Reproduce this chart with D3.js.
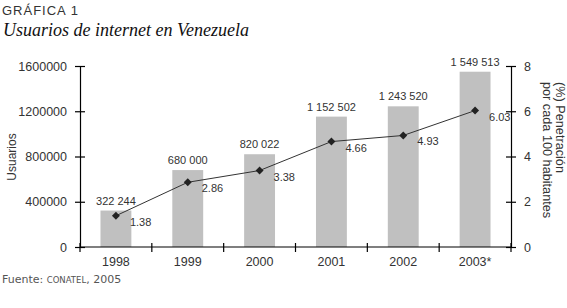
<!DOCTYPE html>
<html>
<head>
<meta charset="utf-8">
<script src="https://cdn.jsdelivr.net/npm/d3@7"></script>
<style>
  body { margin: 0; background: #fff; }
  svg { display: block; }
</style>
</head>
<body>
<div id="chart"></div>
<script>
const years = ['1998', '1999', '2000', '2001', '2002', '2003*'];
const users = [322244, 680000, 820022, 1152502, 1243520, 1549513];
const penetration = [1.38, 2.86, 3.38, 4.66, 4.93, 6.03];
const userLabels = ['322 244', '680 000', '820 022', '1 152 502', '1 243 520', '1 549 513'];
const leftTicks = [0, 400000, 800000, 1200000, 1600000];
const rightTicks = [0, 2, 4, 6, 8];

const width = 567, height = 308;
const marginLeft = 80, marginRight = 56, marginTop = 66, marginBottom = 61;
const font = '"Liberation Sans", Arial, sans-serif';
const ink = '#333';

const svg = d3.select('#chart').append('svg')
    .attr('width', width)
    .attr('height', height);

// titles
svg.append('text')
    .attr('x', 2).attr('y', 15)
    .attr('font-family', font).attr('font-size', 13)
    .attr('letter-spacing', 1)
    .attr('fill', ink)
    .text('GRÁFICA 1');

svg.append('text')
    .attr('x', 3).attr('y', 36)
    .attr('font-family', '"Liberation Serif", "DejaVu Serif", serif')
    .attr('font-style', 'italic').attr('font-size', 18)
    .attr('fill', '#111')
    .text('Usuarios de internet en Venezuela');

// scales
const x = d3.scaleBand()
    .domain(years)
    .range([marginLeft, width - marginRight])
    .paddingInner(0.57)
    .paddingOuter(0.285);

const xc = d3.scaleBand()
    .domain(years)
    .range([marginLeft, width - marginRight]);

const yLeft = d3.scaleLinear()
    .domain([0, 1600000])
    .range([height - marginBottom, marginTop]);

const yRight = d3.scaleLinear()
    .domain([0, 8])
    .range([height - marginBottom, marginTop]);

// bars
svg.append('g')
    .selectAll('rect')
    .data(users)
    .join('rect')
    .attr('x', (d, i) => x(years[i]))
    .attr('y', d => yLeft(d))
    .attr('width', x.bandwidth())
    .attr('height', d => yLeft(0) - yLeft(d))
    .attr('fill', '#c0c0c0');

// bar value labels
svg.append('g')
    .selectAll('text')
    .data(users)
    .join('text')
    .attr('x', (d, i) => xc(years[i]) + xc.bandwidth() / 2)
    .attr('y', d => yLeft(d) - 6)
    .attr('text-anchor', 'middle')
    .attr('font-family', font).attr('font-size', 11)
    .attr('fill', ink)
    .text((d, i) => userLabels[i]);

// axes
const tickStyle = g => {
    g.select('.domain').attr('stroke', '#000').attr('stroke-width', 1.2);
    g.selectAll('.tick line').attr('stroke', '#000').attr('stroke-width', 1.2);
    g.selectAll('.tick text').attr('font-family', font).attr('font-size', 12.5).attr('fill', ink);
};

svg.append('g')
    .attr('transform', `translate(${marginLeft},0)`)
    .call(d3.axisLeft(yLeft).tickValues(leftTicks).tickFormat(d3.format('d')).tickSize(5).tickSizeOuter(0).tickPadding(8))
    .call(tickStyle)
    .call(g => g.selectAll('.tick line').attr('x2', 5).attr('x1', -5));

svg.append('g')
    .attr('transform', `translate(${width - marginRight},0)`)
    .call(d3.axisRight(yRight).tickValues(rightTicks).tickSize(5).tickSizeOuter(0).tickPadding(8))
    .call(tickStyle)
    .call(g => g.selectAll('.tick line').attr('x1', -5).attr('x2', 5));

const xAxisTicks = d3.range(years.length + 1).map(i => marginLeft + i * xc.step());
const xAxis = svg.append('g')
    .attr('transform', `translate(0,${height - marginBottom})`);
xAxis.append('line')
    .attr('x1', marginLeft).attr('x2', width - marginRight)
    .attr('stroke', '#000').attr('stroke-width', 1.2);
xAxis.selectAll('line.t')
    .data(xAxisTicks)
    .join('line')
    .attr('class', 't')
    .attr('x1', d => d).attr('x2', d => d)
    .attr('y1', -4).attr('y2', 5)
    .attr('stroke', '#000').attr('stroke-width', 1.2);
xAxis.selectAll('text')
    .data(years)
    .join('text')
    .attr('x', d => xc(d) + xc.bandwidth() / 2)
    .attr('y', 19)
    .attr('text-anchor', 'middle')
    .attr('font-family', font).attr('font-size', 12.5)
    .attr('fill', ink)
    .text(d => d);

// line of penetration
const line = d3.line()
    .x((d, i) => xc(years[i]) + xc.bandwidth() / 2)
    .y(d => yRight(d));

svg.append('path')
    .attr('d', line(penetration))
    .attr('fill', 'none')
    .attr('stroke', '#333')
    .attr('stroke-width', 1);

svg.append('g')
    .selectAll('path')
    .data(penetration)
    .join('path')
    .attr('transform', (d, i) => `translate(${xc(years[i]) + xc.bandwidth() / 2},${yRight(d)})`)
    .attr('d', d3.symbol(d3.symbolDiamond2, 40))
    .attr('fill', '#222');

svg.append('g')
    .selectAll('text')
    .data(penetration)
    .join('text')
    .attr('x', (d, i) => xc(years[i]) + xc.bandwidth() / 2 + 14)
    .attr('y', d => yRight(d) + 10)
    .attr('font-family', font).attr('font-size', 11)
    .attr('fill', ink)
    .text(d => d.toFixed(2));

// axis titles
svg.append('text')
    .attr('transform', `translate(16,157) rotate(-90)`)
    .attr('text-anchor', 'middle')
    .attr('font-family', font).attr('font-size', 12)
    .attr('fill', ink)
    .text('Usuarios');

const rightTitle = svg.append('text')
    .attr('transform', `translate(556,82) rotate(90)`)
    .attr('text-anchor', 'start')
    .attr('font-family', font).attr('font-size', 12.7)
    .attr('fill', ink);
rightTitle.append('tspan').attr('x', 0).attr('dy', 0).text('(%) Penetración');
rightTitle.append('tspan').attr('x', 0).attr('dy', 13).text('por cada 100 habitantes');

// source
const src = svg.append('text')
    .attr('x', 2).attr('y', 283)
    .attr('font-family', '"DejaVu Sans", sans-serif').attr('font-size', 11)
    .attr('fill', '#555');
src.append('tspan').text('Fuente: ');
src.append('tspan').attr('font-size', 8.5).text('CONATEL');
src.append('tspan').text(', 2005');
</script>
</body>
</html>
